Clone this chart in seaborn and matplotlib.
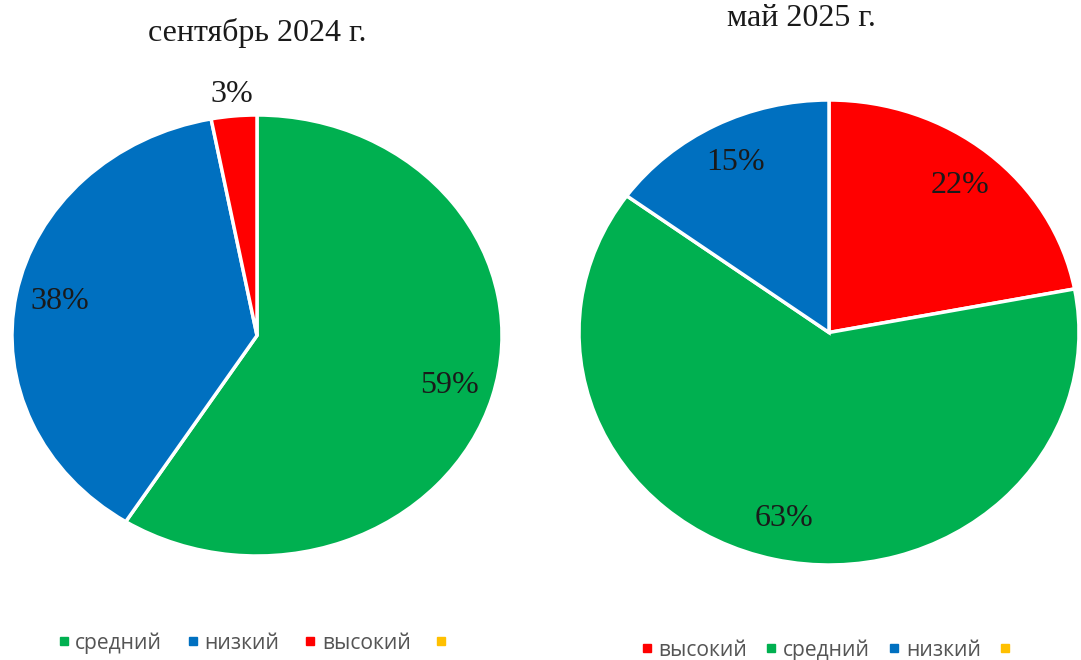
import matplotlib
matplotlib.use("Agg")
import matplotlib.pyplot as plt
from matplotlib.lines import Line2D
import seaborn as sns

sns.set_theme(style="white")
plt.rcParams['font.family'] = ['Liberation Serif', 'DejaVu Serif']

# Data
title_left = "сентябрь 2024 г."
labels_left = ["средний", "низкий", "высокий"]
values_left = [59, 38, 3]

title_right = "май 2025 г."
labels_right = ["высокий", "средний", "низкий"]
values_right = [22, 63, 15]

legend_left = ["средний", "низкий", "высокий", ""]
legend_right = ["высокий", "средний", "низкий", ""]

palette = {"средний": "#00B050", "низкий": "#0070C0", "высокий": "#FF0000", "": "#FFC000"}

fig = plt.figure(figsize=(10.81, 6.60), dpi=100)

def draw(ax, values, labels, outside_small=False):
    wedges, texts, autotexts = ax.pie(
        values, colors=[palette[l] for l in labels], startangle=90, counterclock=False,
        autopct=lambda p: f"{p:.0f}%", pctdistance=0.82, radius=1,
        wedgeprops=dict(edgecolor="white", linewidth=2.5),
        textprops=dict(fontsize=23, color="#1a1a1a"))
    for v, t in zip(values, autotexts):
        if outside_small and v < 5:
            x, y = t.get_position()
            t.set_position((x * 1.1 / 0.82, y * 1.1 / 0.82))
    ax.set_aspect('auto')
    ax.set_xlim(-1.0, 1.0)
    ax.set_ylim(-1.0, 1.0)
    ax.axis('off')

axL = fig.add_axes([12 / 1081, (660 - 556) / 660, 490 / 1081, 441 / 660])
draw(axL, values_left, labels_left, outside_small=True)

axR = fig.add_axes([579 / 1081, (660 - 565) / 660, 500 / 1081, 465 / 660])
draw(axR, values_right, labels_right)

fig.text(257 / 1081, 1 - 33 / 660, title_left, ha='center', va='center', fontsize=23, color="#1a1a1a")
fig.text(801 / 1081, 1 - 19 / 660, title_right, ha='center', va='center', fontsize=23, color="#1a1a1a")

def make_handles(names):
    return [Line2D([0], [0], marker='s', linestyle='none', markersize=5.5,
                   markerfacecolor=palette[n], markeredgecolor=palette[n]) for n in names]

leg_kw = dict(ncol=4, frameon=False, handletextpad=0.35, handlelength=0.4,
              borderpad=0, borderaxespad=0,
              prop={'family': ['Open Sans', 'DejaVu Sans'], 'size': 15.2}, labelcolor="#555555")
fig.legend(make_handles(legend_left), legend_left, loc='center left', columnspacing=1.25,
           bbox_to_anchor=(59.5 / 1081, 1 - 643 / 660), **leg_kw)
fig.legend(make_handles(legend_right), legend_right, loc='center left', columnspacing=0.95,
           bbox_to_anchor=(642.5 / 1081, 1 - 650 / 660), **leg_kw)

fig.savefig("out.png", dpi=100, facecolor="white")
